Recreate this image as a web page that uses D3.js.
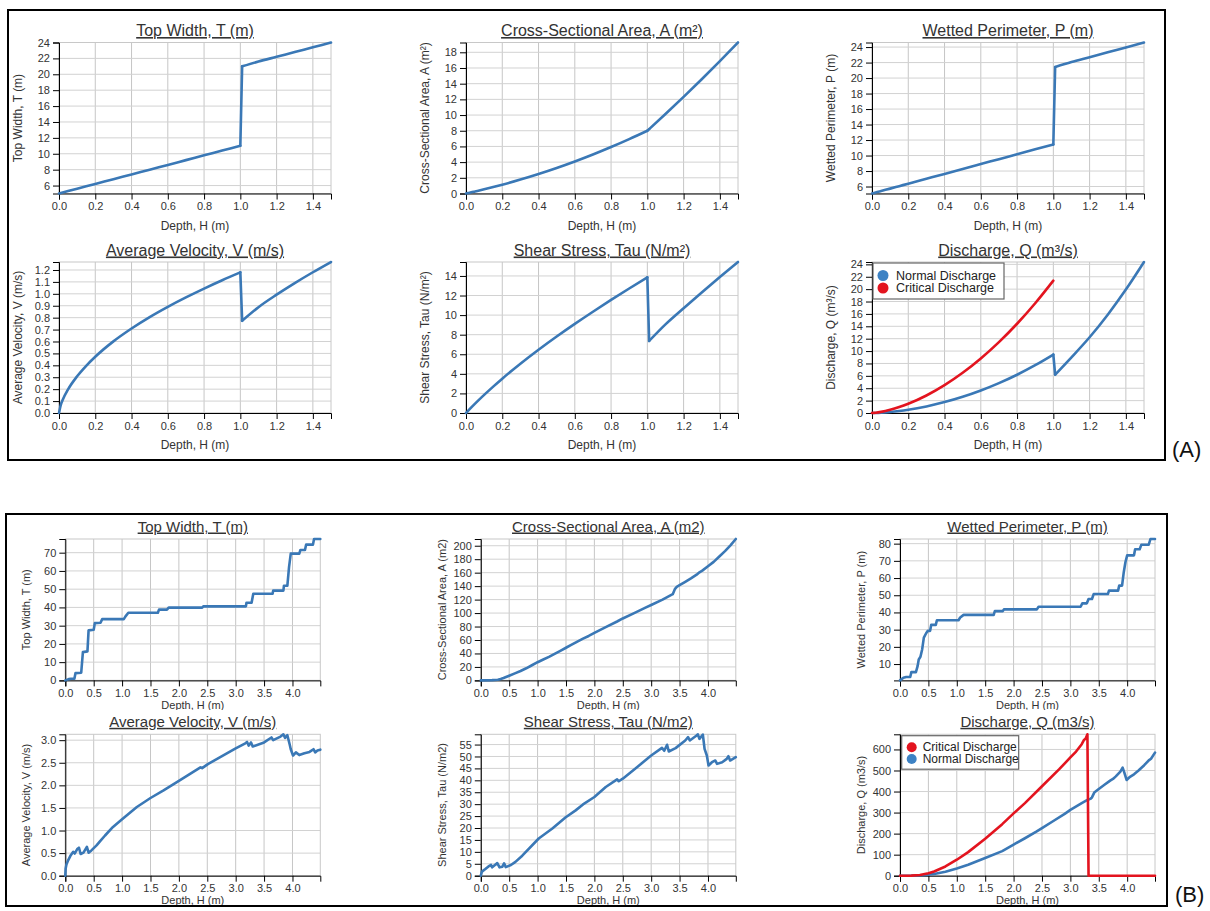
<!DOCTYPE html>
<html>
<head>
<meta charset="utf-8">
<script src="https://cdn.jsdelivr.net/npm/d3@7"></script>
<style>
  body { margin: 0; background: #fff; }
  text { font-family: "Liberation Sans", Arial, sans-serif; }
</style>
</head>
<body>
<svg id="fig" width="1210" height="911"></svg>
<script>
// ---------- panel A: trapezoid channel + flood plain ----------
const depthA      = [0, 0.01, 0.02, 0.05, 0.1, 0.15, 0.2, 0.3, 0.4, 0.5, 0.6, 0.7, 0.8, 0.9, 1.0, 1.01, 1.1, 1.2, 1.3, 1.4, 1.5];
const topWidthA   = [5, 5.06, 5.12, 5.3, 5.6, 5.9, 6.2, 6.8, 7.4, 8.0, 8.6, 9.2, 9.8, 10.4, 11.0, 21.0, 21.6, 22.2, 22.8, 23.4, 24.0];
const areaA       = [0, 0.05, 0.1, 0.26, 0.53, 0.82, 1.12, 1.77, 2.48, 3.25, 4.08, 4.97, 5.92, 6.93, 8.0, 8.21, 10.13, 12.32, 14.57, 16.88, 19.25];
const perimeterA  = [5.1, 5.16, 5.23, 5.42, 5.73, 6.05, 6.37, 7.0, 7.63, 8.27, 8.9, 9.53, 10.16, 10.8, 11.43, 21.43, 22.06, 22.69, 23.33, 23.96, 24.59];
const velocityA   = [0, 0.069, 0.109, 0.198, 0.308, 0.396, 0.472, 0.601, 0.709, 0.805, 0.891, 0.970, 1.044, 1.114, 1.180, 0.774, 0.888, 0.993, 1.090, 1.181, 1.267];
const shearA      = [0, 0.195, 0.387, 0.95, 1.846, 2.696, 3.507, 5.035, 6.462, 7.812, 9.102, 10.344, 11.546, 12.717, 13.86, 7.36, 9.052, 10.701, 12.31, 13.884, 15.424];
const normalQA    = [0, 0.003, 0.011, 0.051, 0.163, 0.324, 0.529, 1.063, 1.759, 2.615, 3.636, 4.823, 6.182, 7.719, 9.436, 6.189, 8.994, 12.229, 15.879, 19.932, 24.383];
const criticalQA  = [0, 0.016, 0.045, 0.178, 0.511, 0.953, 1.491, 2.828, 4.497, 6.488, 8.802, 11.44, 14.41, 17.72, 21.37]; // up to 1.0 m only

// ---------- panel B: surveyed natural section, [depth, value] ----------
const topWidthB = [[0,0],[0.06,0.7],[0.1,0.9],[0.16,0.9],[0.18,4.0],[0.28,4.2],[0.31,15.5],[0.39,15.9],[0.41,27.4],[0.5,27.8],
  [0.52,31.4],[0.62,31.6],[0.65,33.6],[1.03,33.6],[1.06,35.1],[1.11,37.1],[1.63,37.1],[1.65,38.8],[1.79,38.8],[1.82,39.9],
  [2.41,39.9],[2.43,40.6],[3.18,40.6],[3.19,42.6],[3.28,42.6],[3.31,47.5],[3.65,47.5],[3.66,49.2],[3.84,49.2],[3.85,51.9],
  [3.91,51.9],[3.94,62.2],[3.97,69.5],[4.12,69.5],[4.14,71.5],[4.22,71.5],[4.24,74.4],[4.36,74.4],[4.38,77.5],[4.49,77.5]];
const areaB = [[0,0],[0.2,0.4],[0.3,1],[0.35,2],[0.4,3.5],[0.5,7],[0.6,10.5],[0.7,14],[0.8,18],[0.9,22.5],[1.0,27],[1.1,31],
  [1.2,35],[1.3,39.5],[1.4,44],[1.5,48.5],[1.6,53],[1.7,57.5],[1.8,62],[1.9,66],[2.0,70.5],[2.2,79],[2.4,87.5],[2.5,92],
  [2.7,100],[2.9,108],[3.0,112],[3.2,120],[3.38,128],[3.42,136],[3.45,139],[3.5,141.5],[3.6,146.5],[3.7,151.5],[3.8,157],
  [3.85,160.5],[3.9,163],[4.0,169.5],[4.1,176],[4.2,184],[4.3,192],[4.4,201],[4.49,210]];
const perimeterB = [[0,0.5],[0.06,2.0],[0.11,2.5],[0.18,2.5],[0.2,5.3],[0.28,5.3],[0.31,8.8],[0.33,12.7],[0.36,14.2],[0.39,18.5],
  [0.42,25.4],[0.46,27.9],[0.49,29.3],[0.53,29.3],[0.55,32.8],[0.63,32.8],[0.65,35.5],[1.03,35.5],[1.06,37.1],[1.12,38.6],
  [1.65,38.6],[1.67,40.8],[1.81,40.8],[1.83,41.8],[2.41,41.8],[2.44,43.3],[3.18,43.3],[3.21,45.3],[3.29,45.3],[3.32,47.8],
  [3.38,47.8],[3.41,50.7],[3.66,50.7],[3.68,52.7],[3.84,52.7],[3.86,55.6],[3.91,55.6],[3.94,63.4],[3.97,69.3],[4.0,73.2],
  [4.12,73.2],[4.14,76.7],[4.22,76.7],[4.25,79.4],[4.38,79.4],[4.41,82.7],[4.49,82.7]];
const velocityB = [[0,0],[0.006,0.16],[0.02,0.25],[0.05,0.34],[0.09,0.44],[0.14,0.53],[0.165,0.49],[0.21,0.59],[0.24,0.62],
  [0.27,0.48],[0.32,0.51],[0.38,0.64],[0.41,0.51],[0.46,0.56],[0.55,0.67],[0.61,0.76],[0.7,0.89],[0.84,1.08],[1.0,1.25],
  [1.26,1.52],[1.5,1.72],[1.73,1.89],[2.0,2.1],[2.38,2.4],[2.41,2.38],[2.51,2.47],[3.0,2.82],[3.17,2.93],[3.2,2.96],[3.23,2.88],
  [3.27,2.95],[3.3,2.86],[3.5,2.95],[3.63,3.06],[3.66,3.0],[3.79,3.08],[3.84,3.13],[3.87,3.05],[3.91,3.11],[3.95,2.91],
  [3.97,2.8],[4.01,2.66],[4.06,2.73],[4.12,2.67],[4.21,2.71],[4.3,2.74],[4.37,2.8],[4.4,2.73],[4.44,2.77],[4.49,2.79]];
const shearB = [[0,0],[0.02,1.7],[0.08,2.8],[0.13,3.8],[0.18,4.5],[0.2,3.5],[0.26,4.7],[0.29,5.3],[0.33,3.5],[0.38,3.8],
  [0.41,5.2],[0.44,3.6],[0.53,4.5],[0.61,5.8],[0.73,8.4],[1.02,15.6],[1.26,19.8],[1.49,24.4],[1.67,27.4],[1.8,29.9],[2.0,33],
  [2.2,37.2],[2.4,40.4],[2.43,39.6],[2.5,40.7],[2.75,45.5],[3.0,50.4],[3.19,53.6],[3.23,52.4],[3.28,54.9],[3.31,52.1],
  [3.43,53.5],[3.6,56.7],[3.65,58.1],[3.68,56.7],[3.8,58.8],[3.82,59.3],[3.85,57.4],[3.91,59.2],[3.94,53.2],[3.98,50.4],
  [4.01,46.2],[4.07,47.6],[4.13,48.3],[4.16,46.9],[4.25,47.6],[4.33,49],[4.36,50.1],[4.39,48.3],[4.49,49.7]];
const normalQB = [[0,0],[0.2,0.2],[0.4,2],[0.6,8],[0.8,19],[1.0,34],[1.2,52],[1.5,84],[1.8,117],[2.0,148],[2.2,178],[2.4,209],
  [2.5,226],[2.7,260],[2.9,294],[3.0,313],[3.2,345],[3.3,360],[3.35,365],[3.38,372],[3.42,395],[3.5,412],[3.6,432],[3.7,452],
  [3.75,460],[3.8,472],[3.88,495],[3.92,514],[3.95,490],[3.99,455],[4.05,470],[4.12,482],[4.2,500],[4.3,525],[4.38,548],
  [4.42,556],[4.49,585]];
const criticalQB = [[0,0],[0.2,0.3],[0.35,3],[0.5,12],[0.6,20],[0.8,44],[1.0,76],[1.2,112],[1.5,176],[1.8,245],[2.0,296],
  [2.2,345],[2.5,425],[2.8,505],[3.0,562],[3.1,590],[3.2,625],[3.24,645],[3.27,652],[3.3,672],[3.32,0],[4.49,0]];

const blue = "#3a78b6", red = "#e3141f";
const svg = d3.select("#fig");
const defs = svg.append("defs");

function chart(c) {
  const outer = svg.append("g");
  if (c.clip) {
    const id = "clip" + Math.round(c.left) + "_" + Math.round(c.top);
    defs.append("clipPath").attr("id", id).append("rect")
      .attr("x", c.left - 60).attr("y", c.clip[0]).attr("width", c.w + 80).attr("height", c.clip[1] - c.clip[0]);
    outer.attr("clip-path", `url(#${id})`);
  }
  const g = outer.append("g").attr("transform", `translate(${c.left},${c.top})`);

  const all = c.series.flatMap(s => s.data);
  const x = d3.scaleLinear().domain(c.xDomain).range([0, c.w]);
  const y = d3.scaleLinear().domain([d3.min(all, d => d[1]), d3.max(all, d => d[1])]).range([c.h, 0]);
  const xt = x.ticks(c.xTicks), yt = y.ticks(c.yTicks);

  // grid
  g.append("g").selectAll("line").data(xt).join("line")
    .attr("x1", d => x(d)).attr("x2", d => x(d)).attr("y1", 0).attr("y2", c.h)
    .attr("stroke", "#c6c6c6");
  g.append("g").selectAll("line").data(yt).join("line")
    .attr("x1", 0).attr("x2", c.w).attr("y1", d => y(d)).attr("y2", d => y(d))
    .attr("stroke", "#d2d2d2");
  g.append("rect").attr("width", c.w).attr("height", c.h).attr("fill", "none").attr("stroke", "#c8c8c8");

  // axes
  const xa = g.append("g").attr("transform", `translate(0,${c.h})`)
    .call(d3.axisBottom(x).ticks(c.xTicks).tickFormat(d3.format(".1f")));
  const ya = g.append("g").call(d3.axisLeft(y).ticks(c.yTicks).tickFormat(d3.format(c.yFmt)));
  [xa, ya].forEach(a => {
    a.attr("font-family", null).attr("font-size", c.tickSize);
    a.selectAll("text").attr("fill", "#333");
  });

  // series: smooth branches either side of the break, straight jump between them
  const smooth = d3.line().x(d => x(d[0])).y(d => y(d[1])).curve(d3.curveMonotoneX);
  const straight = d3.line().x(d => x(d[0])).y(d => y(d[1]));
  c.series.forEach(s => {
    let pieces = [[s.data, straight]];
    if (c.breakAt) {
      const k = c.breakAt;
      pieces = [[s.data.slice(0, k), smooth], [s.data.slice(k - 1, k + 1), straight], [s.data.slice(k), smooth]];
    }
    pieces.filter(p => p[0].length > 1).forEach(([d, gen]) => {
      g.append("path").datum(d).attr("d", gen)
        .attr("fill", "none").attr("stroke", s.color).attr("stroke-width", 2.6)
        .attr("stroke-linejoin", "round").attr("stroke-linecap", "round");
    });
  });

  // text
  g.append("text").attr("x", c.w / 2).attr("y", c.titleY).attr("text-anchor", "middle")
    .attr("font-size", c.titleSize).attr("fill", "#333").attr("text-decoration", "underline").text(c.title);
  g.append("text").attr("x", c.w / 2).attr("y", c.h + c.xLabelY).attr("text-anchor", "middle")
    .attr("font-size", c.labelSize).attr("fill", "#333").text(c.xLabel);
  g.append("text").attr("transform", "rotate(-90)").attr("x", -c.h / 2).attr("y", -c.yLabelX)
    .attr("dy", "0.35em").attr("text-anchor", "middle")
    .attr("font-size", c.labelSize).attr("fill", "#333").text(c.yLabel);

  if (c.legend) {
    const L = c.legend;
    const lg = g.append("g").attr("transform", `translate(${L.x},${L.y})`);
    lg.append("rect").attr("width", L.w).attr("height", L.h).attr("fill", "#fff")
      .attr("stroke", "#666").attr("stroke-width", 1.2);
    L.items.forEach((it, i) => {
      lg.append("circle").attr("cx", 10).attr("cy", L.y0 + i * L.dy).attr("r", L.r).attr("fill", it.color);
      lg.append("text").attr("x", L.tx).attr("y", L.y0 + i * L.dy).attr("dy", "0.35em")
        .attr("font-size", L.size).attr("fill", "#222").text(it.name);
    });
  }
}

// ---------- layout ----------
const colsA = [59, 466, 872], rowsA = [42.5, 262];
const colsB = [65.3, 480.8, 900], rowsB = [539, 734.3];

const baseA = { w: 272, h: 151, xDomain: [0, 1.5], xTicks: 10, yTicks: 10, yFmt: "d", breakAt: 15,
  titleSize: 16, labelSize: 12, tickSize: 11, titleY: -6.5, xLabelY: 36, yLabelX: 41, xLabel: "Depth, H (m)" };
const baseB = { w: 255, h: 141.4, xDomain: [0, 4.49], xTicks: 10, yTicks: 10, yFmt: "d", breakAt: 0,
  titleSize: 15, labelSize: 11, tickSize: 11, titleY: -7.5, xLabelY: 28.5, yLabelX: 39, xLabel: "Depth, H (m)" };

const zipA = v => d3.zip(depthA, v);

chart({ ...baseA, left: colsA[0], top: rowsA[0], title: "Top Width, T (m)", yLabel: "Top Width, T (m)",
  series: [{ data: zipA(topWidthA), color: blue }] });
chart({ ...baseA, left: colsA[1], top: rowsA[0], title: "Cross-Sectional Area, A (m²)", yLabel: "Cross-Sectional Area, A (m²)",
  series: [{ data: zipA(areaA), color: blue }] });
chart({ ...baseA, left: colsA[2], top: rowsA[0], title: "Wetted Perimeter, P (m)", yLabel: "Wetted Perimeter, P (m)",
  series: [{ data: zipA(perimeterA), color: blue }] });
chart({ ...baseA, left: colsA[0], top: rowsA[1], title: "Average Velocity, V (m/s)", yLabel: "Average Velocity, V (m/s)",
  yFmt: ".1f", series: [{ data: zipA(velocityA), color: blue }] });
chart({ ...baseA, left: colsA[1], top: rowsA[1], title: "Shear Stress, Tau (N/m²)", yLabel: "Shear Stress, Tau (N/m²)",
  series: [{ data: zipA(shearA), color: blue }] });
chart({ ...baseA, left: colsA[2], top: rowsA[1], title: "Discharge, Q (m³/s)", yLabel: "Discharge, Q (m³/s)",
  series: [{ data: zipA(normalQA), color: blue }, { data: d3.zip(depthA.slice(0, criticalQA.length), criticalQA), color: red }],
  legend: { x: 1, y: 1, w: 131, h: 36, y0: 12.5, dy: 12.5, r: 5.5, tx: 23, size: 12.5,
    items: [{ name: "Normal Discharge", color: "#3d82c4" }, { name: "Critical Discharge", color: red }] } });

chart({ ...baseB, left: colsB[0], top: rowsB[0], clip: [514, 710], title: "Top Width, T (m)", yLabel: "Top Width, T (m)",
  series: [{ data: topWidthB, color: blue }] });
chart({ ...baseB, left: colsB[1], top: rowsB[0], clip: [514, 710], title: "Cross-Sectional Area, A (m2)", yLabel: "Cross-Sectional Area, A (m2)",
  series: [{ data: areaB, color: blue }] });
chart({ ...baseB, left: colsB[2], top: rowsB[0], clip: [514, 710], title: "Wetted Perimeter, P (m)", yLabel: "Wetted Perimeter, P (m)",
  series: [{ data: perimeterB, color: blue }] });
chart({ ...baseB, left: colsB[0], top: rowsB[1], clip: [710, 906], title: "Average Velocity, V (m/s)", yLabel: "Average Velocity, V (m/s)",
  yTicks: 5, yFmt: ".1f", series: [{ data: velocityB, color: blue }] });
chart({ ...baseB, left: colsB[1], top: rowsB[1], clip: [710, 906], title: "Shear Stress, Tau (N/m2)", yLabel: "Shear Stress, Tau (N/m2)",
  series: [{ data: shearB, color: blue }] });
chart({ ...baseB, left: colsB[2], top: rowsB[1], clip: [710, 906], title: "Discharge, Q (m3/s)", yLabel: "Discharge, Q (m3/s)",
  yTicks: 5, series: [{ data: normalQB, color: blue }, { data: criticalQB, color: red }],
  legend: { x: 1.7, y: 1.4, w: 117, h: 33.5, y0: 11.5, dy: 11.8, r: 5, tx: 21, size: 12,
    items: [{ name: "Critical Discharge", color: red }, { name: "Normal Discharge", color: "#3d82c4" }] } });

// panel frames and tags
svg.append("rect").attr("x", 8).attr("y", 10).attr("width", 1157).attr("height", 450)
  .attr("fill", "none").attr("stroke", "#000").attr("stroke-width", 2);
svg.append("rect").attr("x", 6).attr("y", 514).attr("width", 1161).attr("height", 392)
  .attr("fill", "none").attr("stroke", "#000").attr("stroke-width", 2);
svg.append("text").attr("x", 1172).attr("y", 457).attr("font-size", 22).attr("fill", "#111").text("(A)");
svg.append("text").attr("x", 1175).attr("y", 902).attr("font-size", 22).attr("fill", "#111").text("(B)");
</script>
</body>
</html>
